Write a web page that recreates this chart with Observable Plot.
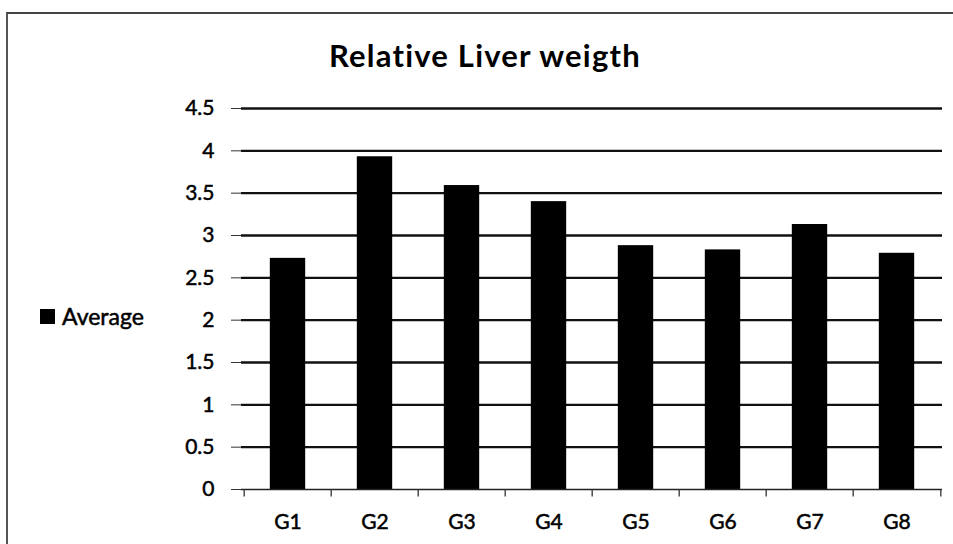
<!DOCTYPE html>
<html>
<head>
<meta charset="utf-8">
<script src="https://cdn.jsdelivr.net/npm/d3@7"></script>
<script src="https://cdn.jsdelivr.net/npm/@observablehq/plot@0.6"></script>
<style>
  html, body { margin: 0; padding: 0; background: #fff; }
  #wrap { position: relative; width: 953px; height: 544px; overflow: hidden; background: #fff; }
  #frame { position: absolute; left: 6px; top: 12px; width: 1000px; height: 600px; border-left: 2px solid #555; border-top: 2px solid #444; box-sizing: border-box; }
  #title { position: absolute; left: 329px; top: 36px; white-space: nowrap; font-family: Lato, "Open Sans", sans-serif; font-weight: 700; font-size: 31px; letter-spacing: 1.2px; color: #000; }
  #legend { position: absolute; left: 40px; top: 302px; font-family: Lato, "Open Sans", sans-serif; font-size: 23px; color: #000; display: flex; align-items: center; -webkit-text-stroke: 0.5px #000; }
  #legend span.sw { display: inline-block; width: 15px; height: 15px; background: #000; margin-right: 7px; }
  #chart { position: absolute; left: 0; top: 0; }
  #chart svg text { font-size: 21px; font-family: Lato, "Open Sans", sans-serif; fill: #000; stroke: #000; stroke-width: 0.5px; }
</style>
</head>
<body>
<div id="wrap">
  <div id="frame"></div>
  <div id="chart"></div>
  <div id="title">Relative Liver weigth</div>
  <div id="legend"><span class="sw"></span>Average</div>
</div>
<script>
const groups = ["G1", "G2", "G3", "G4", "G5", "G6", "G7", "G8"];
const averages = [2.73, 3.93, 3.59, 3.40, 2.88, 2.83, 3.13, 2.79];
const yTicks = [0, 0.5, 1, 1.5, 2, 2.5, 3, 3.5, 4, 4.5];

const data = groups.map((g, i) => ({group: g, value: averages[i]}));

const W = 953, H = 544;
const mL = 241, mR = 11, mT = 108, mB = 55;
const step = (W - mL - mR) / groups.length;
const barW = 36;
const inset = (step - barW) / 2;

const plot = Plot.plot({
  width: W,
  height: H,
  marginLeft: mL,
  marginRight: mR,
  marginTop: mT,
  marginBottom: mB,
  style: {fontFamily: "Lato, 'Open Sans', sans-serif", fontSize: "21px", color: "#000", background: "transparent", overflow: "visible"},
  x: {domain: groups, padding: 0, label: null},
  y: {domain: [0, 4.5], label: null, ticks: yTicks},
  marks: [
    Plot.ruleY(yTicks.filter(t => t > 0), {stroke: "#111", strokeWidth: 2.4}),
    Plot.barY(data, {x: "group", y: "value", fill: "#000", insetLeft: inset, insetRight: inset}),
    Plot.ruleY([0], {stroke: "#222", strokeWidth: 1.6}),
    Plot.ruleX([0], {frameAnchor: "left", stroke: "#333", strokeWidth: 1.4}),
    Plot.ruleX(groups, {x: d => d, dx: -step / 2, y1: 0, y2: -0.09, stroke: "#333", strokeWidth: 1.3}),
    Plot.ruleX([groups[groups.length - 1]], {x: d => d, dx: step / 2, y1: 0, y2: -0.09, stroke: "#333", strokeWidth: 1.3}),
    Plot.axisY({ticks: yTicks, tickSize: 10, tickPadding: 17, tickFormat: d => String(d), fontSize: 21, stroke: "#333"}),
    Plot.axisX({tickSize: 0, tickPadding: 25, fontSize: 21})
  ]
});
document.getElementById("chart").appendChild(plot);
</script>
</body>
</html>
